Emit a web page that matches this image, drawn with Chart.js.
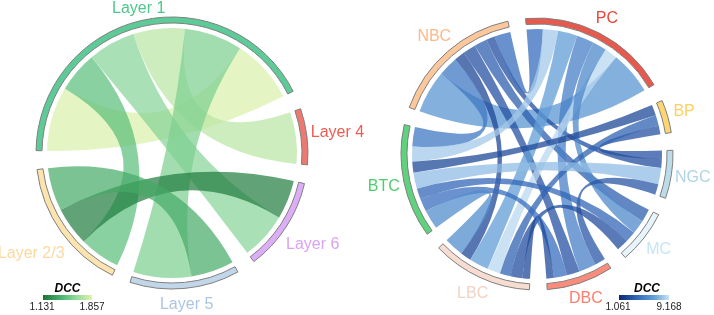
<!DOCTYPE html>
<html>
<head>
<meta charset="utf-8">
<script src="https://cdn.jsdelivr.net/npm/chart.js@4.4.1/dist/chart.umd.min.js"></script>
<style>
  html, body { margin: 0; padding: 0; background: #fff; }
  #wrap { position: relative; width: 714px; height: 315px; }
  #wrap canvas { position: absolute; left: 0; top: 0; }
</style>
</head>
<body>
<div id="wrap">
  <canvas id="layerChart" width="714" height="315"></canvas>
  <canvas id="cellChart" width="714" height="315"></canvas>
</div>
<script>
// ---- left diagram: cortical layers ----
const layerNames = ['Layer 1', 'Layer 4', 'Layer 6', 'Layer 5', 'Layer 2/3'];
const layerRing = ['#5ccb97', '#ec7a70', '#dcaef7', '#c2d6ea', '#fde3ad'];
const layerText = ['#4dc88c', '#ee5b50', '#d9a3f5', '#aac6e3', '#fdd9a0'];
// links: 0 L1-L1, 1 L1-L2/3, 2 L1-L6, 3 L1-L4, 4 L1-L5, 5 L2/3-L6, 6 L2/3-L5
const layerLinkValue = [30, 19, 22, 24, 27, 18, 20];
const layerLinkDcc = [1.84, 1.45, 1.58, 1.74, 1.55, 1.16, 1.36];
// link ends on each segment, clockwise
const layerOrder = [[0, 1, 2, 3, 4, 0], [3], [5, 2], [6, 4], [1, 5, 6]];
const layerDccRange = [1.131, 1.857];

// ---- right diagram: cell types ----
const cellNames = ['NBC', 'PC', 'BP', 'NGC', 'MC', 'DBC', 'LBC', 'BTC'];
const cellRing = ['#fdc79c', '#e8594d', '#fdd672', '#bcdcea', '#e8f4fb', '#fb8c7b', '#f7ddd1', '#5fd27e'];
const cellText = ['#fcb98a', '#e8463a', '#fdd060', '#b0d4e6', '#c5e4f7', '#fb7e6c', '#f2d2c4', '#4ccf6c'];
// links: 0 NBC-PC, 1 NBC-DBC, 2 NBC-LBC, 3 NBC-MC, 4 NBC-NGC, 5 NBC-BTC, 6 NBC-PC,
// 7 PC-LBC, 8 PC-DBC, 9 PC-BTC, 10 PC-LBC, 11 PC-MC, 12 BP-BTC, 13 BP-NGC, 14 BP-LBC,
// 15 NGC-BTC, 16 NGC-DBC, 17 MC-BTC, 18 MC-LBC, 19 DBC-BTC, 20 DBC-LBC, 21 LBC-BTC
const cellLinkValue = [20, 6, 5, 6, 4, 9, 7.5, 9, 8, 7, 6, 6.5, 5, 4, 5, 7.5, 5, 5, 5.5, 6, 3.5, 9];
const cellLinkDcc = [6.2, 3.0, 2.5, 3.6, 2.8, 4.8, 4.2, 6.6, 5.2, 8.3, 8.8, 5.6, 2.6, 3.0, 3.8, 7.8, 3.2, 4.0, 2.8, 4.3, 2.6, 5.8];
const cellOrder = [
  [0, 5, 2, 1, 3, 4, 6],
  [6, 9, 7, 8, 11, 10, 0],
  [12, 14, 13],
  [13, 4, 15, 16],
  [3, 11, 17, 18],
  [16, 8, 1, 19, 20],
  [20, 18, 14, 10, 7, 2, 21],
  [21, 19, 17, 15, 12, 9, 5]
];
const cellDccRange = [1.061, 9.168];

const greenStops = [[0, [25, 115, 55]], [0.4, [80, 185, 115]], [0.65, [140, 215, 155]], [1, [222, 243, 170]]];
const blueStops = [[0, [10, 40, 120]], [0.4, [55, 110, 190]], [0.7, [100, 160, 215]], [1, [200, 225, 245]]];

function scaleColor(stops, t, alpha) {
  t = Math.max(0, Math.min(1, t));
  for (let i = 1; i < stops.length; i++) {
    if (t <= stops[i][0]) {
      const f = (t - stops[i - 1][0]) / (stops[i][0] - stops[i - 1][0]);
      const c = stops[i - 1][1].map((v, k) => Math.round(v + (stops[i][1][k] - v) * f));
      return `rgba(${c[0]},${c[1]},${c[2]},${alpha})`;
    }
  }
  return 'black';
}

const chordPlugin = {
  id: 'chord',
  beforeDatasetsDraw(chart, args, o) {
    const arcs = chart.getDatasetMeta(0).data;
    const ctx = chart.ctx;
    const ends = {};
    o.order.forEach((list, s) => {
      const arc = arcs[s * 2];
      const total = list.reduce((t, l) => t + o.value[l], 0);
      const k = (arc.endAngle - arc.startAngle) / total;
      let a = arc.startAngle;
      list.forEach(l => {
        (ends[l] = ends[l] || []).push([a, a + o.value[l] * k]);
        a += o.value[l] * k;
      });
    });
    const cx = arcs[0].x, cy = arcs[0].y, r = arcs[0].innerRadius - o.gap;
    ctx.save();
    o.value.forEach((v, l) => {
      const [[a0, a1], [b0, b1]] = ends[l];
      ctx.beginPath();
      ctx.arc(cx, cy, r, a0, a1);
      ctx.quadraticCurveTo(cx, cy, cx + r * Math.cos(b0), cy + r * Math.sin(b0));
      ctx.arc(cx, cy, r, b0, b1);
      ctx.quadraticCurveTo(cx, cy, cx + r * Math.cos(a0), cy + r * Math.sin(a0));
      ctx.closePath();
      const t = (o.dcc[l] - o.range[0]) / (o.range[1] - o.range[0]);
      ctx.fillStyle = scaleColor(o.stops, t, o.alpha);
      ctx.fill();
    });
    ctx.restore();
  },
  afterDatasetsDraw(chart, args, o) {
    const arcs = chart.getDatasetMeta(0).data;
    const ctx = chart.ctx;
    const lp = o.labelPos;
    ctx.save();
    // segment labels
    ctx.font = '16px "Liberation Sans", Arial, sans-serif';
    ctx.textAlign = 'center';
    ctx.textBaseline = 'middle';
    o.names.forEach((name, s) => {
      const arc = arcs[s * 2];
      const m = (arc.startAngle + arc.endAngle) / 2;
      const w = ctx.measureText(name).width;
      const sn = Math.sin(m);
      const d = lp.base + lp.side * (w / 2) * Math.abs(Math.cos(m)) + (sn < 0 ? lp.top : lp.bottom) * Math.abs(sn);
      ctx.fillStyle = o.textColors[s];
      ctx.fillText(name, arc.x + d * Math.cos(m), arc.y + d * sn);
    });
    // colour bar
    const b = o.bar;
    const grad = ctx.createLinearGradient(b.x, 0, b.x + b.w, 0);
    o.stops.forEach(([p, c]) => grad.addColorStop(p, `rgb(${c[0]},${c[1]},${c[2]})`));
    ctx.fillStyle = grad;
    ctx.fillRect(b.x, b.y, b.w, b.h);
    ctx.fillStyle = '#000';
    ctx.font = 'italic bold 12px "Liberation Sans", Arial, sans-serif';
    ctx.fillText('DCC', b.x + b.w / 2 + b.titleShift, b.y - 6);
    ctx.fillStyle = '#222';
    ctx.font = '10px "Liberation Sans", Arial, sans-serif';
    ctx.fillText(o.range[0].toFixed(3), b.x - 1, b.y + b.h + 7);
    ctx.fillText(o.range[1].toFixed(3), b.x + b.w, b.y + b.h + 7);
    ctx.restore();
  }
};

function ringData(order, values, gap) {
  const data = [];
  order.forEach(list => {
    data.push(list.reduce((t, l) => t + values[l], 0));
    data.push(gap);
  });
  return data;
}

function makeChord(id, cfg) {
  const bg = [], bw = [];
  cfg.ring.forEach(c => { bg.push(c, 'rgba(0,0,0,0)'); bw.push(1, 0); });
  return new Chart(document.getElementById(id), {
    type: 'doughnut',
    data: {
      labels: cfg.names.flatMap(n => [n, '']),
      datasets: [{
        data: ringData(cfg.order, cfg.value, cfg.gap),
        backgroundColor: bg,
        borderColor: '#7f7f7f',
        borderWidth: bw
      }]
    },
    options: {
      responsive: false,
      animation: false,
      events: [],
      rotation: cfg.rotation,
      cutout: 130,
      layout: { padding: cfg.padding },
      plugins: {
        legend: { display: false },
        tooltip: { enabled: false },
        chord: {
          names: cfg.names, textColors: cfg.text, order: cfg.order,
          value: cfg.value, dcc: cfg.dcc, range: cfg.range,
          stops: cfg.stops, alpha: cfg.alpha, gap: 5, bar: cfg.bar,
          labelPos: cfg.labelPos
        }
      }
    },
    plugins: [chordPlugin]
  });
}

makeChord('layerChart', {
  names: layerNames, ring: layerRing, text: layerText, order: layerOrder,
  value: layerLinkValue, dcc: layerLinkDcc, range: layerDccRange,
  stops: greenStops, alpha: 0.7, gap: 8, rotation: 271,
  padding: { left: 35.5, top: 16.5, right: 405.5, bottom: 25.5 },
  bar: { x: 43, y: 295, w: 49, h: 5, titleShift: 0 },
  labelPos: { base: 140, side: 1, top: 2, bottom: 10 }
});

makeChord('cellChart', {
  names: cellNames, ring: cellRing, text: cellText, order: cellOrder,
  value: cellLinkValue, dcc: cellLinkDcc, range: cellDccRange,
  stops: blueStops, alpha: 0.75, gap: 7.5, rotation: 290,
  padding: { left: 400.5, top: 17.5, right: 40.5, bottom: 24.5 },
  bar: { x: 619, y: 295, w: 50, h: 5, titleShift: 3 },
  labelPos: { base: 144.5, side: 0.7, top: 5, bottom: 5 }
});
</script>
</body>
</html>
